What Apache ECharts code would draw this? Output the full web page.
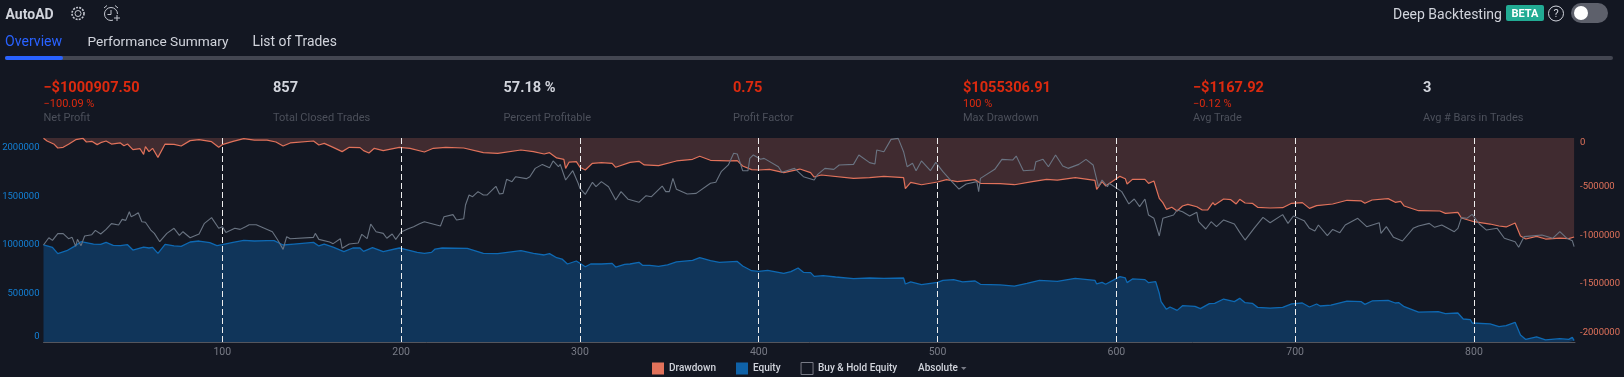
<!DOCTYPE html>
<html><head><meta charset="utf-8">
<style>html,body{margin:0;padding:0;background:#131722}#c{width:1624px;height:377px}</style>
<script src="https://cdn.jsdelivr.net/npm/echarts@6/dist/echarts.min.js"></script>
</head><body><div id="c"></div>
<script>
// Values are in thousands of dollars
const equityTrades=[0,5,8,13,17,21,22,28,32,35,39,43,47,50,56,59,61,64,68,73,77,82,87,93,97,100,106,112,118,125,129,134,140,151,154,157,162,168,173,177,179,184,190,199,204,209,213,217,219,223,237,246,254,267,274,280,283,287,290,293,298,303,306,312,318,320,325,328,333,335,339,344,349,354,363,367,373,378,388,391,396,400,405,414,418,422,425,429,431,436,443,453,462,470,481,482,485,491,500,503,509,514,521,524,535,543,550,557,567,577,588,589,592,594,602,605,606,609,616,618,622,624,625,628,630,634,637,644,647,652,655,660,666,667,669,672,676,679,686,693,698,704,708,712,714,720,729,737,739,743,752,756,758,761,769,780,784,791,794,798,799,809,814,818,823,826,829,835,840,848,853,855,856];
const equityK=[1000,976,911,941,983,1034,1041,1010,1007,1027,996,993,1003,948,979,969,976,914,1007,990,986,1031,1041,1024,993,1003,1027,1048,1041,1045,1045,1000,1010,1027,990,1010,979,931,969,969,934,972,931,969,948,924,914,924,958,969,965,914,911,941,914,897,911,869,855,804,835,776,804,804,811,773,801,804,821,790,790,780,794,825,842,869,838,821,831,783,735,728,739,708,725,763,718,715,677,684,670,653,660,656,660,598,619,591,615,636,643,619,629,595,588,577,605,636,625,656,636,598,615,595,674,660,612,650,643,612,622,502,416,337,361,326,374,368,344,395,399,443,416,399,450,405,399,357,350,357,392,402,361,392,371,381,421,416,388,423,430,402,405,364,309,313,292,299,237,230,196,186,158,168,203,72,27,52,21,34,27,48,14];
const drawdownTrades=[0,2,6,8,11,14,18,22,24,27,30,32,35,38,43,45,47,50,54,55,56,57,59,61,64,68,73,77,82,87,94,98,100,106,112,118,125,130,134,138,151,154,157,162,167,171,177,179,182,185,190,199,200,205,213,218,225,235,246,254,267,274,280,283,287,291,292,294,298,300,303,307,312,318,320,328,333,336,344,354,363,367,373,383,388,391,396,400,406,414,423,429,431,435,436,453,462,470,481,482,485,491,500,505,511,521,524,535,543,553,561,567,577,588,589,592,594,602,605,606,609,616,618,621,624,626,628,631,634,637,640,645,648,651,654,655,660,664,667,669,672,676,679,686,693,698,704,708,712,721,729,737,739,743,752,756,759,761,769,781,784,791,793,800,809,814,818,823,826,829,835,840,848,853,856];
const drawdownK=[-3,-31,-65,-103,-96,-65,-17,-3,-41,-34,-68,-48,-31,-62,-51,-79,-62,-120,-110,-96,-168,-89,-140,-106,-199,-62,-65,-82,-27,-17,-38,-96,-68,-34,-7,-21,-21,-41,-82,-51,-31,-72,-55,-96,-140,-96,-99,-130,-154,-106,-130,-96,-99,-106,-144,-106,-96,-103,-151,-158,-123,-140,-164,-151,-205,-219,-312,-247,-243,-301,-329,-260,-253,-260,-301,-250,-240,-277,-284,-236,-219,-188,-229,-236,-233,-288,-325,-329,-322,-356,-319,-356,-401,-380,-373,-414,-408,-394,-408,-521,-456,-480,-452,-428,-449,-428,-466,-469,-480,-449,-425,-432,-408,-435,-527,-449,-493,-394,-418,-473,-425,-425,-466,-442,-620,-664,-733,-712,-750,-699,-682,-706,-740,-740,-664,-688,-627,-634,-678,-630,-668,-671,-712,-719,-716,-671,-664,-723,-695,-678,-640,-647,-671,-637,-623,-661,-651,-699,-747,-750,-774,-764,-822,-860,-884,-904,-914,-873,-1007,-1038,-1010,-1038,-1028,-1034,-1017];
const holdTrades=[0,3,5,8,11,14,16,18,19,21,23,27,29,32,35,38,42,44,46,48,49,51,53,55,57,60,62,65,69,73,76,78,82,87,90,94,98,100,102,107,110,113,115,119,128,131,134,136,138,151,152,154,160,162,166,167,171,176,178,181,183,186,190,192,195,197,200,204,207,210,213,222,224,229,231,235,236,238,240,243,246,248,253,255,257,259,262,264,270,272,275,279,283,285,288,289,292,296,299,300,303,307,309,312,316,320,323,327,333,337,340,346,348,350,352,354,360,365,373,376,379,383,386,388,391,394,395,397,401,403,411,413,420,425,431,433,437,442,445,453,456,462,465,466,470,474,478,481,483,486,488,491,496,499,503,508,512,516,522,523,524,532,536,542,544,548,554,555,559,562,566,570,573,579,583,587,590,592,595,596,603,607,610,613,616,618,621,624,626,632,634,637,641,645,646,650,653,656,660,666,669,672,677,682,686,693,696,699,705,708,711,713,718,721,725,728,735,740,747,748,751,755,760,766,769,775,778,782,789,791,793,796,799,803,807,813,817,823,825,828,838,844,848,852,855,856];
const holdK=[1000,1075,1048,1117,1117,1065,1079,986,1058,993,1093,1106,1151,1113,1161,1220,1206,1264,1254,1343,1292,1309,1333,1240,1234,1154,1120,1034,1120,1172,1100,1137,1075,1113,1223,1282,1172,1189,1130,1172,1161,1189,1209,1209,1137,1051,955,1086,1065,1079,1120,1058,1031,1014,1065,966,1010,1020,1110,1065,1216,1137,1120,1069,1113,1058,1134,1168,1189,1216,1240,1196,1292,1313,1258,1271,1412,1515,1498,1550,1515,1515,1605,1526,1532,1677,1653,1704,1684,1704,1790,1831,1797,1866,1807,1831,1670,1766,1636,1584,1522,1646,1601,1653,1601,1464,1550,1471,1440,1508,1498,1608,1550,1550,1687,1574,1526,1532,1636,1646,1756,1825,1945,1938,1766,1766,1893,1928,1883,1893,1807,1749,1790,1704,1670,1728,1790,1780,1825,1831,1928,1849,1835,1979,1962,2089,2099,1962,1807,1842,1766,1866,1766,1852,1756,1653,1577,1629,1653,1550,1687,1780,1883,1876,1917,1766,1773,1859,1883,1807,1928,1814,1790,1831,1883,1825,1601,1670,1601,1636,1550,1423,1474,1395,1474,1309,1275,1093,1275,1309,1361,1343,1299,1337,1240,1165,1240,1189,1258,1216,1130,1051,1172,1285,1230,1313,1223,1299,1251,1172,1144,1206,1096,1161,1127,1206,1275,1189,1230,1120,1189,1079,1041,1172,1196,1223,1182,1206,1137,1172,1282,1275,1316,1216,1154,1172,1069,1034,976,1086,1103,1069,1137,1069,1045,983];
const tradeTicks=[100,200,300,400,500,600,700,800];
const equityTicks=[0,500000,1000000,1500000,2000000];
const drawdownTicks=[-2000000,-1500000,-1000000,-500000,0];
const seriesNames=['Drawdown','Equity','Buy & Hold Equity'];
const stats=[
 ['−$1000907.50','−100.09 %','Net Profit',43.5,true],
 ['857','','Total Closed Trades',273,false],
 ['57.18 %','','Percent Profitable',503.5,false],
 ['0.75','','Profit Factor',733,true],
 ['$1055306.91','100 %','Max Drawdown',963,true],
 ['−$1167.92','−0.12 %','Avg Trade',1193,true],
 ['3','','Avg # Bars in Trades',1423,false]
];
const zip=(xs,ys)=>xs.map((x,i)=>[x,ys[i]*1000]);
const F='Roboto, sans-serif';
const t=(text,x,y,fill,font,align)=>({type:'text',silent:true,style:{text,x,y,fill,font:font+' '+F,verticalAlign:'middle',align:align||'left'}});
const stroke=(c,w)=>({stroke:c,lineWidth:w,fill:'none'});
const ln=(x1,y1,x2,y2,c,w)=>({type:'line',silent:true,shape:{x1,y1,x2,y2},style:stroke(c,w||1)});
const graphics=[
 t('AutoAD',5.5,15,'#d1d4dc','bold 14px'),
 {type:'circle',silent:true,shape:{cx:78,cy:13.5,r:3},style:stroke('#c4c7d0',1)},
 {type:'circle',silent:true,shape:{cx:78,cy:13.5,r:6},style:{stroke:'#c4c7d0',lineWidth:1.6,fill:'none',lineDash:[2,1.2]}},
 {type:'circle',silent:true,shape:{cx:111,cy:14,r:6.5},style:stroke('#c4c7d0',1)},
 ln(111,10,111,14.5,'#c4c7d0'),ln(111,14.5,107.5,14.5,'#c4c7d0'),
 ln(104,8,107,5.5,'#c4c7d0'),ln(115,5.5,118,8,'#c4c7d0'),
 {type:'rect',silent:true,shape:{x:113,y:14,width:8,height:8},style:{fill:'#131722'}},
 ln(114,18,120,18,'#c4c7d0'),ln(117,15,117,21,'#c4c7d0'),
 t('Overview',5,42.5,'#2962ff','14.1px'),
 t('Performance Summary',87.5,42.5,'#d1d4dc','13.7px'),
 t('List of Trades',252.5,42.5,'#d1d4dc','13.9px'),
 {type:'rect',silent:true,shape:{x:5,y:56,width:1608,height:4,r:2},style:{fill:'#434651'}},
 {type:'rect',silent:true,shape:{x:5,y:56,width:58,height:4,r:2},style:{fill:'#2962ff'}},
 t('Deep Backtesting',1393,15,'#d1d4dc','14px'),
 {type:'rect',silent:true,shape:{x:1506,y:5,width:38,height:16,r:2},style:{fill:'#22ab94'}},
 t('BETA',1525,14,'#ffffff','bold 11px','center'),
 {type:'circle',silent:true,shape:{cx:1556,cy:13.5,r:7.5},style:stroke('#d1d4dc',1)},
 t('?',1556,14.5,'#d1d4dc','11px','center'),
 {type:'rect',silent:true,shape:{x:1571,y:3,width:37,height:20,r:10},style:{fill:'#5d606b'}},
 {type:'circle',silent:true,shape:{cx:1581,cy:13,r:7},style:{fill:'#ffffff'}},
 {type:'polygon',silent:true,shape:{points:[[961,367],[966.5,367],[963.7,370]]},style:{fill:'#787b86'}},
 t('Absolute',918,368.5,'#d1d4dc','500 10px')
];
stats.forEach(s=>{
 const col=s[4]?'#dc2a0f':'#d1d4dc';
 graphics.push(t(s[0],s[3],88.5,col,'bold 14.6px'));
 if(s[1])graphics.push(t(s[1],s[3],104.5,col,'11px'));
 graphics.push(t(s[2],s[3],118,'#4c505b','11px'));
});
const lineBase={type:'line',showSymbol:false,symbol:'none',animation:false,silent:true};
const chart=echarts.init(document.getElementById('c'),null,{renderer:'canvas'});
chart.setOption({
 backgroundColor:'#131722',animation:false,
 textStyle:{fontFamily:F},
 grid:{left:43.5,right:49,top:138,bottom:35,containLabel:false,outerBoundsMode:'none'},
 legend:{left:652,top:362,padding:0,itemWidth:12,itemHeight:12,itemGap:20,icon:'rect',selectedMode:false,
  textStyle:{color:'#d1d4dc',fontSize:10,fontWeight:500,fontFamily:F},
  data:[
   {name:seriesNames[0],icon:'rect',itemStyle:{color:'#e1725b',borderWidth:0}},
   {name:seriesNames[1],icon:'rect',itemStyle:{color:'#0f62a8',borderWidth:0}},
   {name:seriesNames[2],icon:'rect',itemStyle:{color:'#131722',borderColor:'#787b86',borderWidth:1}}
  ]},
 xAxis:{type:'value',min:0,max:856.5,interval:100,
  axisLine:{show:true,onZero:false,lineStyle:{color:'#54565e',width:1}},axisTick:{show:false},splitLine:{show:false},
  axisLabel:{color:'#787b86',fontSize:10.5,margin:5,showMinLabel:false,showMaxLabel:false,hideOverlap:false}},
 yAxis:[
  {type:'value',min:0,max:2103000,position:'left',splitLine:{show:false},axisLine:{show:false},axisTick:{show:false},
   axisLabel:{customValues:equityTicks,color:'#1380d6',fontSize:9.5,margin:4,verticalAlignMinLabel:'bottom',formatter:v=>String(v)}},
  {type:'value',min:-2096000,max:0,position:'right',splitLine:{show:false},axisLine:{show:false},axisTick:{show:false},
   axisLabel:{customValues:drawdownTicks,color:'#e1725b',fontSize:9.5,margin:5,verticalAlignMaxLabel:'top',formatter:v=>String(v)}}
 ],
 series:[
  Object.assign({},lineBase,{name:seriesNames[0],yAxisIndex:1,data:zip(drawdownTrades,drawdownK),z:2,
   lineStyle:{color:'#e1725b',width:1.2},itemStyle:{color:'#e1725b'},areaStyle:{color:'#402b30',opacity:1,origin:'end'}}),
  Object.assign({},lineBase,{name:seriesNames[1],yAxisIndex:0,data:zip(equityTrades,equityK),z:2,
   lineStyle:{color:'#0e69b3',width:1.3},itemStyle:{color:'#0e69b3'},areaStyle:{color:'#10355a',opacity:1,origin:'start'}}),
  Object.assign({},lineBase,{name:seriesNames[2],yAxisIndex:0,data:zip(holdTrades,holdK),z:3,
   lineStyle:{color:'#6a7482',width:1.1},itemStyle:{color:'#6a7482'},
   markLine:{silent:true,symbol:'none',animation:false,label:{show:false},
    lineStyle:{color:'#eeeeee',type:[6,3],width:1},data:tradeTicks.map(v=>({xAxis:v}))}})
 ],
 graphic:{elements:graphics}
});
</script></body></html>
